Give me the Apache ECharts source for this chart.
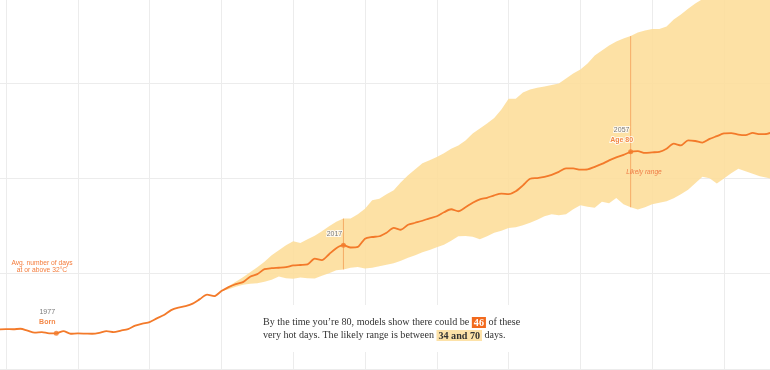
<!DOCTYPE html>
<html>
<head>
<meta charset="utf-8">
<script src="https://cdn.jsdelivr.net/npm/echarts@6/dist/echarts.min.js"></script>
<style>html,body{margin:0;padding:0;background:#fff}#c{width:770px;height:370px}</style>
</head>
<body>
<div id="c"></div>
<script>
// ---- data ----
const lineStartYear = 1969;
const lineValues = [
  8.31, 8.38, 8.34, 8.44, 8.06, 7.64, 7.75, 7.48, 7.48, 7.96,
  7.39, 7.46, 7.43, 7.39, 7.58, 7.96, 7.75, 8.06, 8.38, 9.11,
  9.53, 9.84, 10.62, 11.31, 12.36, 12.88, 13.19, 13.72, 14.66, 15.60,
  15.29, 16.34, 17.17, 17.80, 18.22, 19.37, 19.90, 20.94, 21.15, 21.24,
  21.36, 21.72, 21.82, 21.93, 23.14, 22.83, 24.08, 25.34, 25.97, 25.49,
  25.61, 27.33, 27.69, 27.85, 28.59, 29.59, 29.21, 30.26, 30.68, 31.10,
  31.62, 32.04, 32.88, 33.51, 33.09, 33.93, 34.87, 35.60, 35.92, 36.44,
  36.80, 36.69, 37.28, 38.53, 39.90, 40.06, 40.31, 40.73, 41.36, 42.09,
  42.09, 41.82, 41.88, 42.41, 43.02, 43.77, 44.40, 44.92, 45.55, 45.70,
  45.32, 45.45, 45.57, 46.22, 47.27, 46.91, 47.96, 47.83, 47.50, 48.27,
  48.84, 49.42, 49.49, 49.17, 49.05, 49.53, 49.26, 49.32, 49.84
];
const bandStartYear = 2000;
const bandLower = [
  16.30, 16.75, 17.28, 17.65, 17.91, 17.97, 18.32, 18.74, 19.41, 19.06,
  18.95, 19.20, 19.06, 19.00, 19.54, 20.10, 20.73, 20.88, 21.26, 21.42,
  21.09, 21.26, 21.57, 21.88, 22.20, 22.72, 23.35, 23.87, 24.50, 24.98,
  25.55, 26.07, 26.91, 27.85, 27.92, 27.75, 27.23, 27.85, 28.59, 29.01,
  29.59, 29.74, 30.16, 30.68, 31.31, 32.04, 32.46, 32.25, 32.46, 33.51,
  34.35, 34.03, 33.82, 35.08, 34.76, 35.87, 34.55, 33.93, 33.45, 33.93,
  34.55, 34.87, 35.18, 35.81, 36.65, 37.59, 38.95, 40.31, 40.00, 38.89,
  39.94, 41.05, 41.99, 41.47, 40.94, 40.42, 40.10, 39.79
];
const bandUpper = [
  16.34, 17.38, 18.32, 19.27, 20.31, 21.36, 22.51, 23.87, 24.92, 25.97,
  26.81, 26.45, 27.23, 27.96, 28.90, 29.95, 30.89, 31.56, 31.56, 32.46,
  33.61, 35.39, 35.71, 36.65, 37.49, 39.16, 40.63, 41.88, 43.14, 43.77,
  44.50, 45.24, 46.18, 46.91, 47.96, 49.42, 50.47, 51.52, 52.67, 54.45,
  56.69, 56.69, 58.00, 58.64, 58.99, 59.27, 59.58, 59.90, 60.94, 61.99,
  62.83, 64.08, 65.76, 66.81, 67.85, 68.69, 69.32, 69.84, 70.58, 70.99,
  71.35, 71.31, 71.83, 73.30, 74.35, 75.60, 76.65, 77.60, 78.50, 79.40,
  80.20, 81.00, 81.80, 82.50, 83.20, 83.80, 84.40, 85.00
];
const gridYears = [1970, 1980, 1990, 2000, 2010, 2020, 2030, 2040, 2050, 2060, 2070];
const gridDays = [0, 20, 40, 60];
const markYears = [1977, 2017, 2057];
const markTitles = ['Born', '', 'Age 80'];
const rangeYears = [2017, 2057];

// ---- build ----
const ORANGE = '#f37a2a';
const BAND = '#fde2a8';
const GRID = '#ececec';
const lineData = lineValues.map((v, i) => [lineStartYear + i, v]);
const bandData = bandUpper.map((v, i) => [bandStartYear + i, v, bandLower[i]]);
const lineAt = y => lineValues[y - lineStartYear];
const pointData = markYears.map((y, i) => ({
  value: [y, lineAt(y)],
  label: {
    formatter: markTitles[i] ? '{yr|' + y + '}\n{ev|' + markTitles[i] + '}' : '{yr|' + y + '}'
  }
}));
const rangeSeries = rangeYears.map(y => ({
  type: 'line', silent: true, z: 3, clip: false,
  data: [[y, bandLower[y - bandStartYear]], [y, bandUpper[y - bandStartYear]]],
  showSymbol: false, symbol: 'none',
  lineStyle: { color: 'rgba(240,120,40,0.5)', width: 1 }
}));
const gridMarks = gridYears.map(y => ({ xAxis: y })).concat(gridDays.map(d => ({ yAxis: d })));

const chart = echarts.init(document.getElementById('c'), null, { renderer: 'canvas' });
chart.setOption({
  animation: false,
  grid: { left: 0, right: 0, top: 0, bottom: 1 },
  xAxis: {
    type: 'value', min: 1969.164, max: 2076.41,
    axisLabel: { show: false }, axisTick: { show: false }, axisLine: { show: false },
    splitLine: { show: false }
  },
  yAxis: {
    type: 'value', min: 0, max: 77.41,
    axisLabel: { show: false }, axisTick: { show: false }, axisLine: { show: false },
    splitLine: { show: false }
  },
  title: {
    left: 255, top: 305,
    padding: [11, 9, 10, 8],
    backgroundColor: '#fff',
    text: 'By the time you\u2019re 80, models show there could be {a|46} of these\nvery hot days. The likely range is between {b|34 and 70} days.',
    textStyle: {
      fontFamily: 'Liberation Serif', fontSize: 10.1, fontWeight: 'normal', color: '#333', lineHeight: 13,
      rich: {
        a: { backgroundColor: '#f26a1e', color: '#fff', fontWeight: 'bold', fontFamily: 'Liberation Serif', fontSize: 10.1, padding: [1, 2, 0, 2] },
        b: { backgroundColor: BAND, color: '#333', fontWeight: 'bold', fontFamily: 'Liberation Serif', fontSize: 10.1, padding: [1, 2, 0, 2] }
      }
    }
  },
  graphic: [
    {
      type: 'text', x: 42, y: 267, z: 10,
      style: {
        text: 'Avg. number of days\nat or above 32\u00b0C',
        fill: '#f47b3a', fontFamily: 'Liberation Sans', fontSize: 6.7, lineHeight: 7,
        align: 'center', verticalAlign: 'middle'
      }
    },
    {
      type: 'text', x: 644, y: 172.5, z: 10,
      style: {
        text: 'Likely range',
        fill: '#ef7b45', fontFamily: 'Liberation Sans', fontSize: 6.6, fontStyle: 'italic',
        align: 'center', verticalAlign: 'middle'
      }
    }
  ],
  series: [
    {
      type: 'line', data: [], silent: true, z: 0,
      markLine: {
        silent: true, symbol: ['none', 'none'], animation: false, z: 0,
        label: { show: false },
        lineStyle: { color: GRID, type: 'solid', width: 1 },
        emphasis: { disabled: true },
        data: gridMarks
      }
    },
    {
      type: 'custom', data: bandData, silent: true, z: 1, clip: false,
      encode: { x: 0, y: [1, 2] },
      renderItem: function (params, api) {
        if (params.dataIndex !== 0) return null;
        const pts = [];
        for (let i = 0; i < bandUpper.length; i++) pts.push(api.coord([bandStartYear + i, bandUpper[i]]));
        for (let i = bandLower.length - 1; i >= 0; i--) pts.push(api.coord([bandStartYear + i, bandLower[i]]));
        return { type: 'polygon', shape: { points: pts }, style: { fill: 'rgba(253,221,153,0.88)' } };
      }
    },
    ...rangeSeries,
    {
      type: 'line', data: lineData, silent: true, z: 4,
      showSymbol: false, symbol: 'none', smooth: 0.25,
      lineStyle: { color: ORANGE, width: 1.8 }
    },
    {
      type: 'scatter', data: pointData, z: 5, silent: true,
      symbolSize: 5, itemStyle: { color: ORANGE },
      label: {
        show: true, position: 'top', distance: 4, offset: [-9, 0],
        lineHeight: 10,
        rich: {
          yr: { color: '#555', fontFamily: 'Liberation Sans', fontSize: 7, lineHeight: 10, textBorderColor: '#fff', textBorderWidth: 2 },
          ev: { color: '#f06a1a', fontFamily: 'Liberation Sans', fontSize: 7, fontWeight: 'bold', lineHeight: 10, textBorderColor: '#fff', textBorderWidth: 2 }
        }
      }
    }
  ]
});
</script>
</body>
</html>
